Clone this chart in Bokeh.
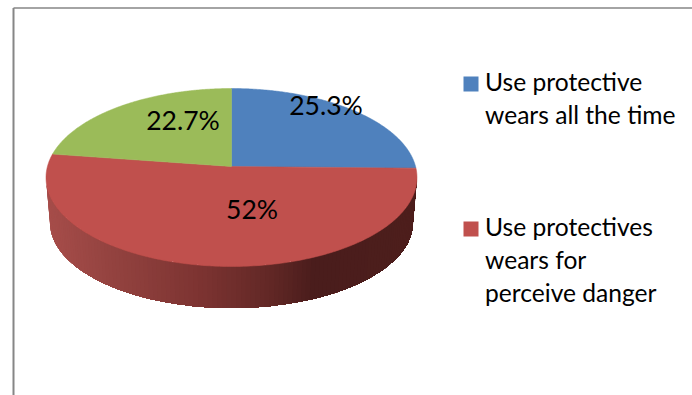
import numpy as np
from bokeh.core.properties import value
from bokeh.embed import file_html
from bokeh.models import Range1d
from bokeh.plotting import figure
from bokeh.resources import INLINE

# Shares of protective wear use, clockwise from twelve o'clock
categories = ["Use protective wears all the time",
              "Use protectives wears for perceive danger",
              "Other"]
shares = [25.3, 52.0, 22.7]
share_labels = ["25.3%", "52%", "22.7%"]
colors = ["#4F81BD", "#C0504D", "#9BBB59"]
legend_lines = [["Use protective", "wears all the time"],
                ["Use protectives", "wears for", "perceive danger"]]

W, H = 692, 395
FONT = value("Lato")

# Tilted disc, in page pixels: the rim is an ellipse and its hub sits above
# the ellipse centre, as a projective view of a circle gives.
CX, CY, RX, RY, HUB = 231.0, 177.0, 185.5, 89.0, 11.0
TILT = HUB * 2 / (2 * RY)
SCALE_X = RX * np.sqrt(1 - TILT ** 2)


def project(theta):
    """Map a clockwise-from-top angle on the disc to page coordinates."""
    u, v = np.sin(theta), np.cos(theta)
    w = 1 + TILT * v
    return CX + SCALE_X * u / w, CY - (RY * v + HUB) / w


p = figure(width=W, height=H, x_range=Range1d(0, W), y_range=Range1d(H, 0),
           output_backend="svg", toolbar_location=None, min_border=0,
           outline_line_color=None, background_fill_color="white",
           border_fill_color="white")
p.axis.visible = False
p.grid.visible = False

# Chart frame: only the top and left edges fall inside the page
p.line([13, 13], [H, 7.5], line_color="#868686", line_width=2)
p.line([13, W], [7.5, 7.5], line_color="#868686", line_width=1.6)

# Side wall of the disc, shaded in narrow strips painted left to right;
# each strip runs on to the right end, so no seams show between them
STOPS_X = [46, 120, 200, 270, 313, 417]
STOPS_RGB = np.array([[168, 78, 75], [146, 66, 63], [125, 52, 50],
                      [98, 40, 38], [74, 29, 28], [78, 31, 29]], float)
LOWER_RX, LOWER_CY, LOWER_RY = 181.5, 222.0, 85.5
t = np.linspace(np.pi, 2 * np.pi, 121)
top_x, top_y = CX + RX * np.cos(t), CY - RY * np.sin(t)
low_x, low_y = CX + LOWER_RX * np.cos(t), LOWER_CY - LOWER_RY * np.sin(t)
wall_xs, wall_ys, wall_colors = [], [], []
for i in range(len(t) - 1):
    wall_xs.append(np.r_[top_x[i:], low_x[i:][::-1]])
    wall_ys.append(np.r_[top_y[i:], low_y[i:][::-1]])
    mid = (low_x[i] + low_x[i + 1]) / 2
    rgb = [int(np.interp(mid, STOPS_X, STOPS_RGB[:, k])) for k in range(3)]
    wall_colors.append("#%02x%02x%02x" % tuple(rgb))
p.patches(wall_xs, wall_ys, fill_color=wall_colors, line_color=None)

# Top surface: one wedge per share
edges = 2 * np.pi * np.cumsum([0] + shares) / sum(shares)
hub_x, hub_y = CX, CY - HUB
for start, end, color in zip(edges[:-1], edges[1:], colors):
    rim_x, rim_y = project(np.linspace(start, end, 200))
    p.patch(np.r_[hub_x, rim_x], np.r_[hub_y, rim_y], fill_color=color,
            line_color=color, line_width=0.5)

# Share labels on the wedges
p.text([325.5, 251.5, 182.5], [104, 208, 119], text=share_labels, text_font=FONT,
       text_font_size="26.5px", text_color="black", text_align="center",
       text_baseline="middle")

# Legend, listing the first two categories
SWATCH_TOP = [76, 221]
for top, lines, color in zip(SWATCH_TOP, legend_lines, colors):
    p.quad(left=463, right=478, top=top, bottom=top + 15, fill_color=color,
           line_color=None)
    baselines = [top + 5 + 33 * n for n in range(len(lines))]
    p.text([484.5] * len(lines), baselines, text=lines, text_font=FONT,
           text_font_size="24.6px", text_color="black", text_align="left",
           text_baseline="alphabetic")

open("out.html", "w").write(file_html(p, INLINE))
